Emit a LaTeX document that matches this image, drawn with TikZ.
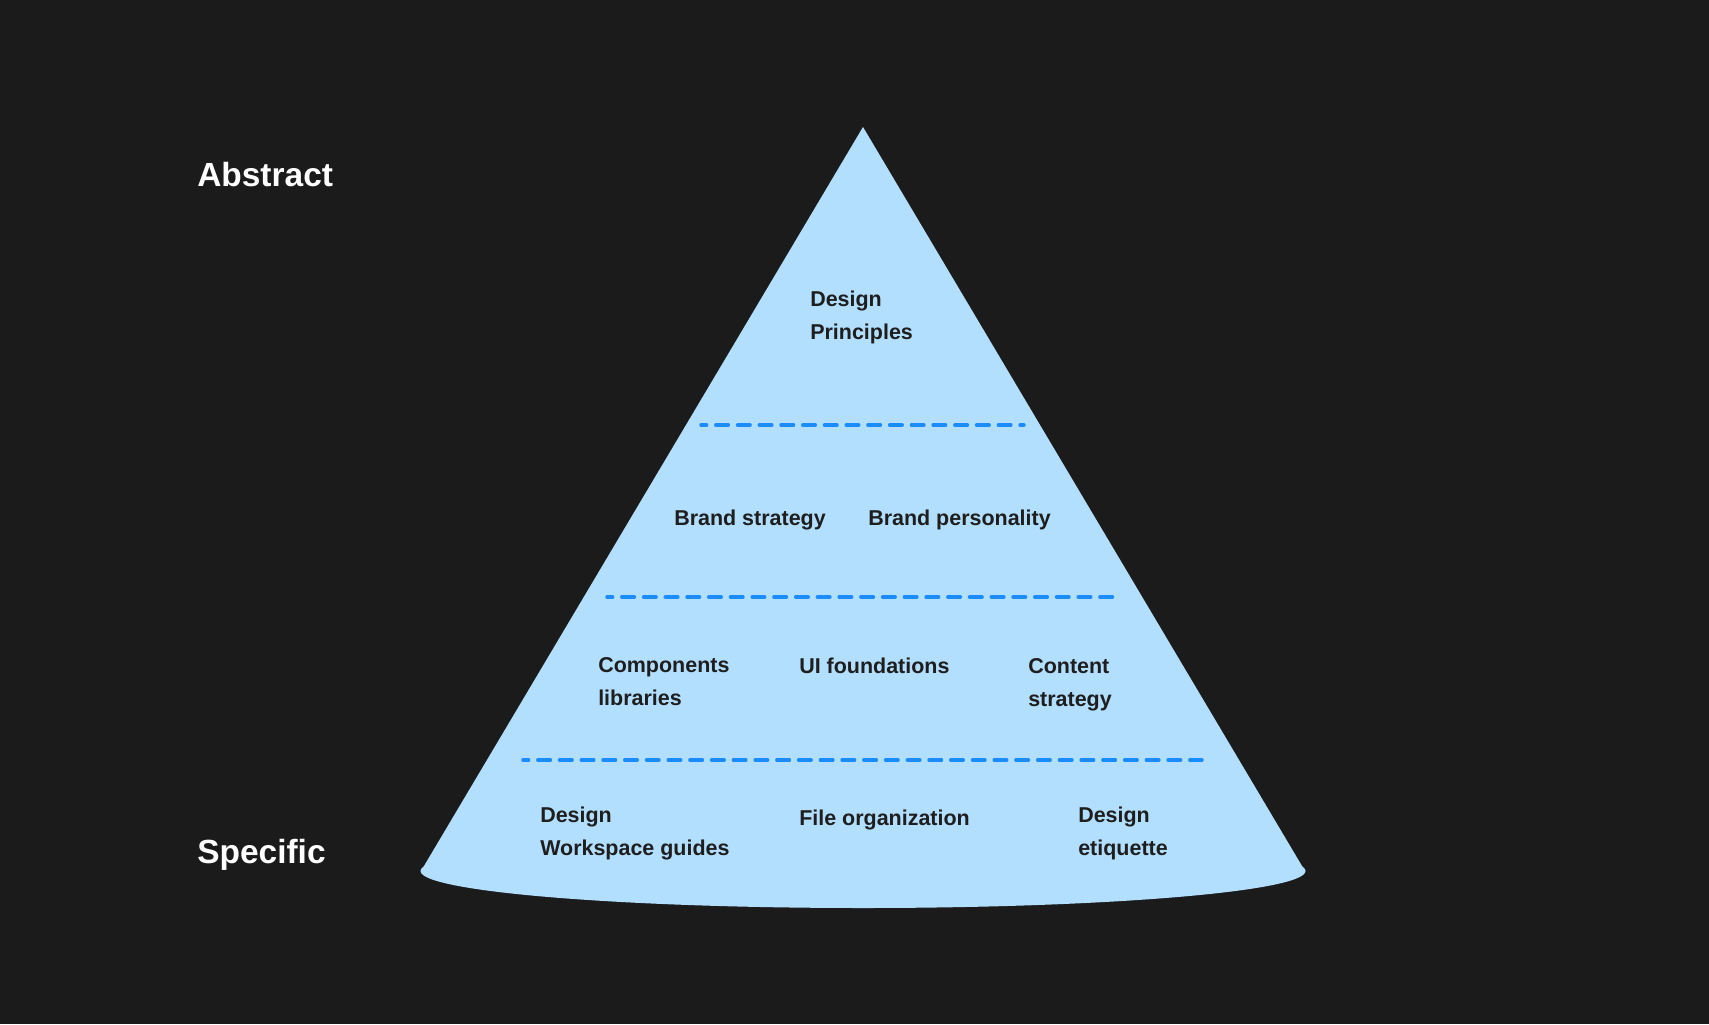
\documentclass[tikz,border=0pt]{standalone}
\usepackage{fontspec}
\setmainfont{Liberation Sans}
\usepackage{tikz}

\definecolor{bgdark}{HTML}{1B1B1B}
\definecolor{pyrblue}{HTML}{B3DFFF}
\definecolor{dashblue}{HTML}{1A8CFF}
\definecolor{inkdark}{HTML}{1E1E1E}

\tikzset{
  level label/.style={anchor=west, inner sep=0pt, text=inkdark, align=left,
    font=\fontsize{16.1}{24.75}\selectfont\bfseries},
  side label/.style={anchor=west, inner sep=0pt, text=white,
    font=\fontsize{25.1}{30}\selectfont\bfseries},
  divider/.style={draw=dashblue, line width=2.6pt, line cap=round,
    dash pattern={on 9.4pt off 6.9pt}, dash phase=5.2pt}
}

\begin{document}
\begin{tikzpicture}[x=0.75pt,y=0.75pt,yscale=-1,xscale=1]
    %set diagram to the 1709 x 1024 frame
    \fill [bgdark] (0,0) rectangle (1709,1024);
    \useasboundingbox (0,0) rectangle (1709,1024);

    % Corners of the pyramid
    \coordinate (apex) at (863,127);
    \coordinate (baseL) at (421,871);
    \coordinate (baseR) at (1305,871);

    %Shape: Triangle
    \fill [pyrblue] (apex) -- (baseR) -- (baseL) -- cycle;
    %Shape: Ellipse (rounded base)
    \fill [pyrblue] (863,871) ellipse (442.5 and 37);

    %Straight Lines: dividers
    \draw [divider] (701,425) -- (1024,425) ;
    \draw [divider] (607,597) -- (1118,597) ;
    \draw [divider] (523,760) -- (1202,760) ;

    % Text Node
    \draw (197,174.5) node [side label] (abstract) {Abstract};
    % Text Node
    \draw (197,854.5) node [side label] (specific) {Specific};
    % Text Node
    \draw (810,317) node [level label] (principles) {Design\\Principles};
    % Text Node
    \draw (674,520) node [level label] (brandstrat) {Brand strategy};
    % Text Node
    \draw (868,520) node [level label] (brandpers) {Brand personality};
    % Text Node
    \draw (598,682) node [level label] (components) {Components\\libraries};
    % Text Node
    \draw (799,666) node [level label] (uifound) {UI foundations};
    % Text Node
    \draw (1028,685) node [level label] (content) {Content\\strategy};
    % Text Node
    \draw (540,833) node [level label] (workspace) {Design\\Workspace guides};
    % Text Node
    \draw (799,820) node [level label] (fileorg) {File organization};
    % Text Node
    \draw (1078,833) node [level label] (etiquette) {Design\\etiquette};
\end{tikzpicture}
\end{document}
